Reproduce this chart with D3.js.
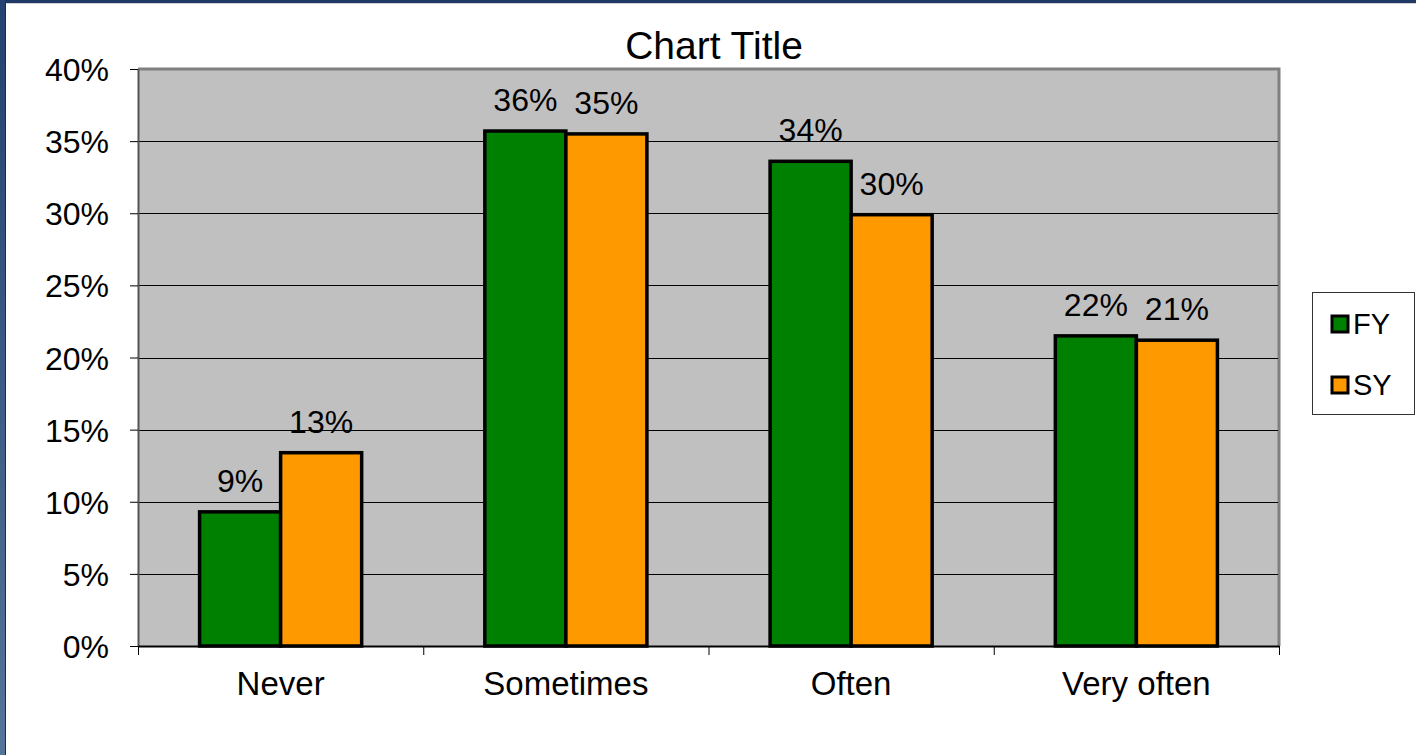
<!DOCTYPE html>
<html>
<head>
<meta charset="utf-8">
<script src="https://cdn.jsdelivr.net/npm/d3@7/dist/d3.min.js"></script>
<style>
html,body{margin:0;padding:0;background:#fff;overflow:hidden;}
svg{display:block;font-family:"Liberation Sans",Arial,sans-serif;}
</style>
</head>
<body>
<svg id="chart" width="1416" height="755"></svg>
<script>
const categories = ["Never", "Sometimes", "Often", "Very often"];
const seriesNames = ["FY", "SY"];
const fyValues = [0.093, 0.357, 0.336, 0.215];
const syValues = [0.134, 0.355, 0.299, 0.212];
const fyLabels = ["9%", "36%", "34%", "22%"];
const syLabels = ["13%", "35%", "30%", "21%"];
const yTicks = [0, 0.05, 0.10, 0.15, 0.20, 0.25, 0.30, 0.35, 0.40];
const colors = ["#008000", "#FF9900"];

const svg = d3.select("#chart");
const W = 1416, H = 755;

// window frame
const defs = svg.append("defs");
const lg = defs.append("linearGradient").attr("id","lb").attr("x1",0).attr("y1",0).attr("x2",0).attr("y2",1);
lg.append("stop").attr("offset","0%").attr("stop-color","#24416f");
lg.append("stop").attr("offset","100%").attr("stop-color","#557599");
svg.append("rect").attr("x",0).attr("y",0).attr("width",W).attr("height",H).attr("fill","#fff");
svg.append("rect").attr("x",0).attr("y",0).attr("width",W).attr("height",3).attr("fill","#1f3864");
svg.append("rect").attr("x",0).attr("y",3).attr("width",W).attr("height",1).attr("fill","#d4d4d4");
svg.append("rect").attr("x",0).attr("y",0).attr("width",5).attr("height",H).attr("fill","url(#lb)");
svg.append("rect").attr("x",5).attr("y",3).attr("width",1).attr("height",H).attr("fill","#1a2c4a");

const plot = {left:138, right:1279, top:69, bottom:646};

const x = d3.scaleBand().domain(categories).range([plot.left, plot.right]).paddingInner(0).paddingOuter(0);
const xs = d3.scaleBand().domain(seriesNames).range([0, x.bandwidth()]).paddingInner(0).paddingOuter(0.76);
const y = d3.scaleLinear().domain([0, 0.40]).range([plot.bottom, plot.top]);

// plot area
svg.append("rect").attr("x",plot.left).attr("y",plot.top)
  .attr("width",plot.right-plot.left).attr("height",plot.bottom-plot.top)
  .attr("fill","#C0C0C0");
svg.append("path")
  .attr("d",`M${plot.left},${plot.top} H${plot.right} V${plot.bottom}`)
  .attr("fill","none").attr("stroke","#808080").attr("stroke-width",3);

// gridlines
svg.append("g").selectAll("line").data(yTicks.filter(d=>d>0 && d<0.40)).join("line")
  .attr("x1",plot.left).attr("x2",plot.right-1)
  .attr("y1",d=>Math.round(y(d))+0.5).attr("y2",d=>Math.round(y(d))+0.5)
  .attr("stroke","#000").attr("stroke-width",1);

// bars
const data = categories.map((c,i)=>({c, vals:[fyValues[i], syValues[i]], labs:[fyLabels[i], syLabels[i]]}));
const g = svg.append("g");
data.forEach(d=>{
  seriesNames.forEach((s,j)=>{
    g.append("rect")
      .attr("x", x(d.c)+xs(s)).attr("y", y(d.vals[j]))
      .attr("width", xs.bandwidth()).attr("height", y(0)-y(d.vals[j]))
      .attr("fill", colors[j]).attr("stroke","#000").attr("stroke-width",3.5);
    g.append("text")
      .attr("x", x(d.c)+xs(s)+xs.bandwidth()/2).attr("y", y(d.vals[j]) - 20)
      .attr("text-anchor","middle").attr("font-size",32).attr("fill","#000")
      .text(d.labs[j]);
  });
});

// y axis
const yAxis = d3.axisLeft(y).tickValues(yTicks).tickFormat(d3.format(".0%")).tickSize(8).tickSizeOuter(0);
const ya = svg.append("g").attr("transform",`translate(${plot.left},0)`).call(yAxis);
ya.select(".domain").attr("stroke","#555").attr("stroke-width",2);
ya.selectAll(".tick line").attr("stroke","#000");
ya.selectAll(".tick text").attr("font-size",32).attr("fill","#000").attr("x",-29).attr("dy","0.36em")
  .attr("font-family","Liberation Sans, Arial, sans-serif");

// x axis
const xAxis = d3.axisBottom(x).tickSize(0).tickSizeOuter(0);
const xa = svg.append("g").attr("transform",`translate(0,${plot.bottom})`).call(xAxis);
xa.select(".domain").attr("stroke","#000").attr("stroke-width",2);
xa.selectAll(".tick text").attr("font-size",33).attr("fill","#000").attr("y",49).attr("dy",0)
  .attr("font-family","Liberation Sans, Arial, sans-serif");
svg.append("g").selectAll("line").data(categories.concat(["_end"])).join("line")
  .attr("x1",(d,i)=> i<categories.length ? x(d)+0.5 : plot.right+0.5)
  .attr("x2",(d,i)=> i<categories.length ? x(d)+0.5 : plot.right+0.5)
  .attr("y1",plot.bottom).attr("y2",plot.bottom+9)
  .attr("stroke","#000").attr("stroke-width",1);

// title
svg.append("text").attr("x",714).attr("y",59).attr("text-anchor","middle")
  .attr("font-size",39).attr("fill","#000").text("Chart Title");

// legend
const leg = svg.append("g");
leg.append("rect").attr("x",1312.5).attr("y",292.5).attr("width",102).attr("height",122)
  .attr("fill","#fff").attr("stroke","#333").attr("stroke-width",1);
seriesNames.forEach((s,j)=>{
  const cy = 324 + j*61;
  leg.append("rect").attr("x",1332).attr("y",cy-8).attr("width",16).attr("height",16)
    .attr("fill",colors[j]).attr("stroke","#000").attr("stroke-width",3);
  leg.append("text").attr("x",1353).attr("y",cy+10).attr("font-size",29).attr("fill","#000").text(s);
});
</script>
</body>
</html>
